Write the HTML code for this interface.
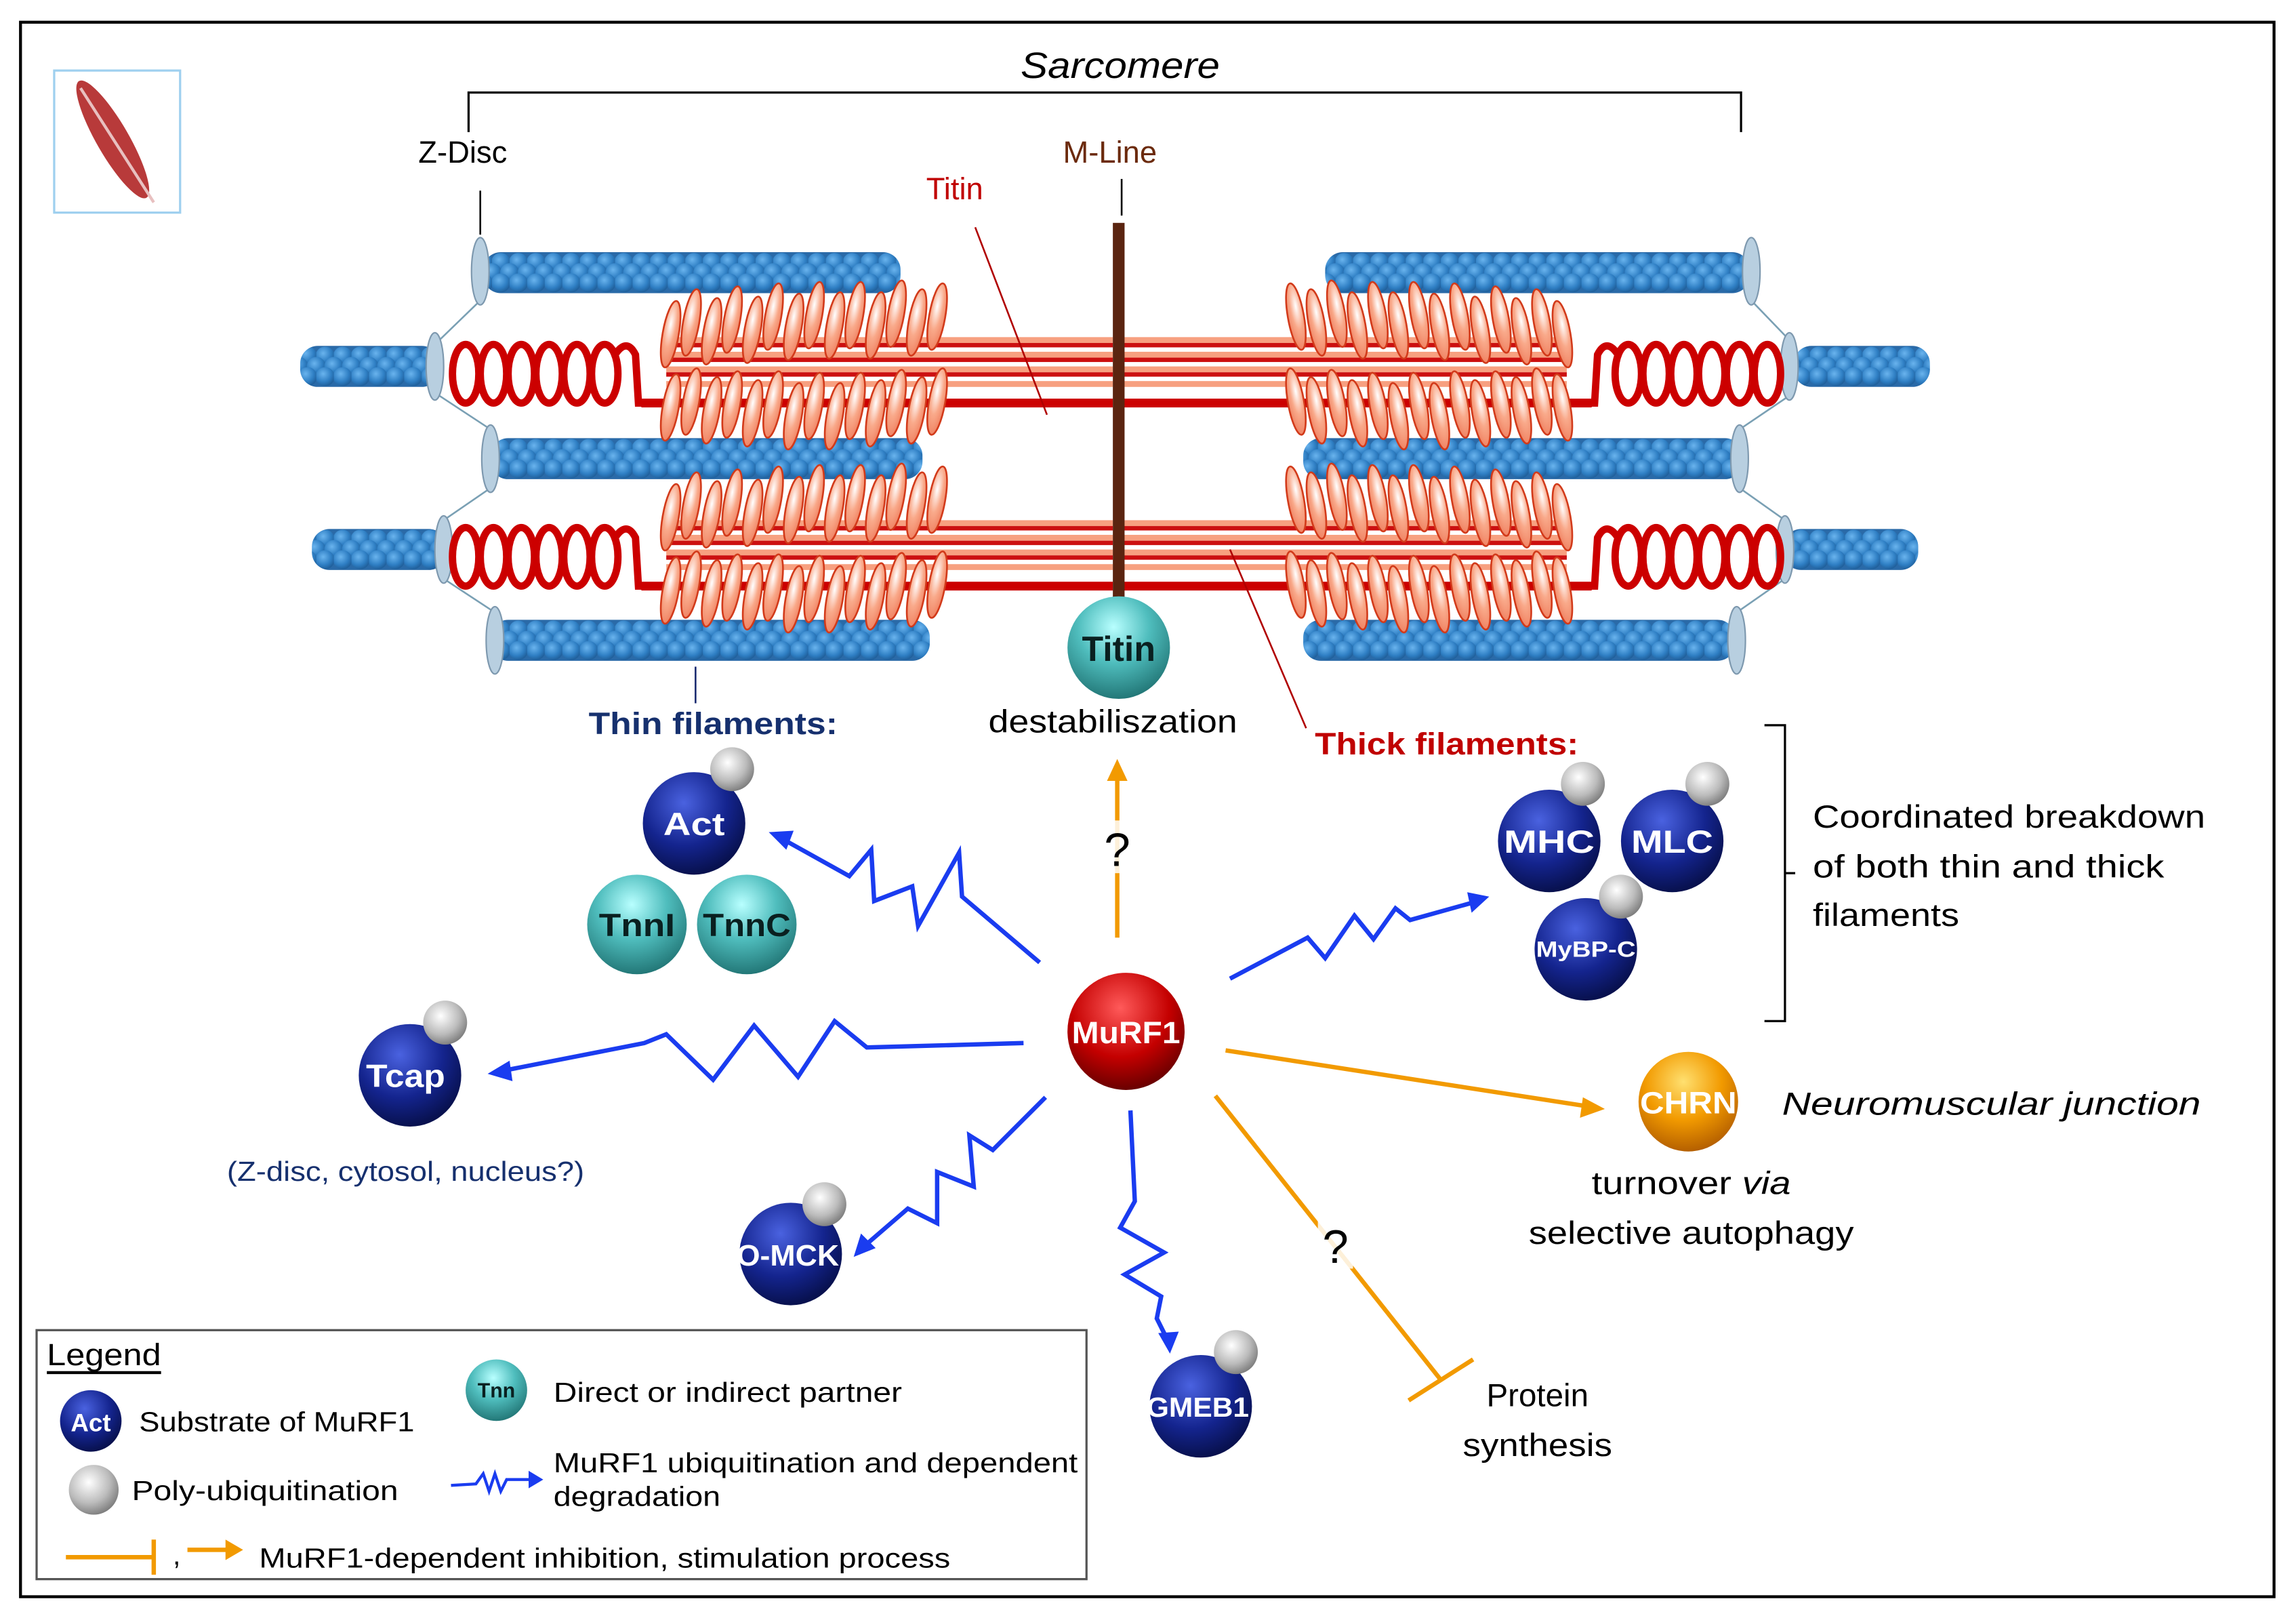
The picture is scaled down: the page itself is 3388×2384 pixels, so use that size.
<!DOCTYPE html>
<html><head><meta charset="utf-8">
<style>html,body{margin:0;padding:0;background:#fff}svg{display:block}
text{font-family:"Liberation Sans",sans-serif}</style></head>
<body>
<svg width="3388" height="2384" viewBox="0 0 1568 1103" xmlns="http://www.w3.org/2000/svg">
<defs>
<radialGradient id="gN" cx="0.4" cy="0.3" r="0.7"><stop offset="0" stop-color="#4a62e0"/><stop offset="0.6" stop-color="#14248e"/><stop offset="1" stop-color="#08114f"/></radialGradient>
<radialGradient id="gT" cx="0.45" cy="0.3" r="0.7"><stop offset="0" stop-color="#b8ffff"/><stop offset="0.5" stop-color="#4fbdbd"/><stop offset="1" stop-color="#237878"/></radialGradient>
<radialGradient id="gR" cx="0.45" cy="0.3" r="0.7"><stop offset="0" stop-color="#ff5a5a"/><stop offset="0.6" stop-color="#c40000"/><stop offset="1" stop-color="#6a0000"/></radialGradient>
<radialGradient id="gO" cx="0.45" cy="0.3" r="0.7"><stop offset="0" stop-color="#ffe070"/><stop offset="0.55" stop-color="#f29a00"/><stop offset="1" stop-color="#b56000"/></radialGradient>
<radialGradient id="gG" cx="0.4" cy="0.35" r="0.7"><stop offset="0" stop-color="#fff"/><stop offset="0.6" stop-color="#bbb"/><stop offset="1" stop-color="#777"/></radialGradient>
<radialGradient id="gH" cx="0.4" cy="0.35" r="0.7"><stop offset="0" stop-color="#fff"/><stop offset="0.5" stop-color="#f9a98a"/><stop offset="1" stop-color="#ef8060"/></radialGradient>
<radialGradient id="gB" cx="0.4" cy="0.35" r="0.7"><stop offset="0" stop-color="#6ab4ee"/><stop offset="0.6" stop-color="#2f7fc4"/><stop offset="1" stop-color="#1d5a94"/></radialGradient>
<pattern id="act" patternUnits="userSpaceOnUse" width="12" height="28" x="0" y="-14">
<rect width="12" height="28" fill="#2a6aa8"/>
<circle cx="6" cy="7" r="6.5" fill="url(#gB)"/>
<circle cx="0" cy="14" r="6.5" fill="url(#gB)"/>
<circle cx="12" cy="14" r="6.5" fill="url(#gB)"/>
<circle cx="6" cy="21" r="6.5" fill="url(#gB)"/>
</pattern>
<ellipse id="hU" rx="5.5" ry="23" fill="url(#gH)" stroke="#d23a1a" stroke-width="1.2" transform="rotate(10)"/>
<ellipse id="hD" rx="5.5" ry="23" fill="url(#gH)" stroke="#d23a1a" stroke-width="1.2" transform="rotate(10)"/>
<g id="thickL">
<g fill="#f7a080"><rect x="455" y="-20" width="305" height="4"/><rect x="455" y="-10" width="305" height="4"/><rect x="455" y="0" width="305" height="4"/><rect x="455" y="10" width="305" height="4"/></g>
<g fill="#cc1010"><rect x="455" y="-16" width="305" height="3"/><rect x="455" y="-6" width="305" height="3"/><rect x="455" y="4" width="305" height="3"/></g>
<rect x="438" y="22" width="322" height="6" fill="#cc0000"/>
<g fill="none" stroke="#cc0000" stroke-width="5">
<ellipse cx="318" cy="5" rx="9" ry="20"/><ellipse cx="337" cy="5" rx="9" ry="20"/><ellipse cx="356" cy="5" rx="9" ry="20"/><ellipse cx="375" cy="5" rx="9" ry="20"/><ellipse cx="394" cy="5" rx="9" ry="20"/><ellipse cx="413" cy="5" rx="9" ry="20"/>
<path d="M420,-8 Q428,-20 434,-8 L436,25 L445,25"/>
</g>
<g>
<use href="#hU" x="458" y="-22"/><use href="#hU" x="472" y="-30"/><use href="#hU" x="486" y="-24"/><use href="#hU" x="500" y="-32"/><use href="#hU" x="514" y="-25"/><use href="#hU" x="528" y="-34"/><use href="#hU" x="542" y="-27"/><use href="#hU" x="556" y="-35"/><use href="#hU" x="570" y="-28"/><use href="#hU" x="584" y="-35"/><use href="#hU" x="598" y="-28"/><use href="#hU" x="612" y="-36"/><use href="#hU" x="626" y="-30"/><use href="#hU" x="640" y="-34"/>
<use href="#hD" x="458" y="28"/><use href="#hD" x="472" y="24"/><use href="#hD" x="486" y="30"/><use href="#hD" x="500" y="26"/><use href="#hD" x="514" y="32"/><use href="#hD" x="528" y="26"/><use href="#hD" x="542" y="34"/><use href="#hD" x="556" y="27"/><use href="#hD" x="570" y="34"/><use href="#hD" x="584" y="27"/><use href="#hD" x="598" y="32"/><use href="#hD" x="612" y="25"/><use href="#hD" x="626" y="30"/><use href="#hD" x="640" y="24"/>
</g>
</g>
<ellipse id="zd" rx="6" ry="23" fill="#b8cfe0" stroke="#7d98ae" stroke-width="1"/>
</defs>

<rect x="14" y="15" width="1539" height="1075" fill="#fff" stroke="#000" stroke-width="2"/>

<rect x="37" y="48" width="86" height="97" fill="#fff" stroke="#9fd0ef" stroke-width="1.5"/>
<ellipse cx="77" cy="95" rx="11" ry="46" fill="#b83a3a" transform="rotate(-30 77 95)"/>
<line x1="55" y1="60" x2="105" y2="138" stroke="#e8c0c0" stroke-width="2"/>

<text x="765" y="53" font-size="25" font-style="italic" text-anchor="middle" textLength="136" lengthAdjust="spacingAndGlyphs">Sarcomere</text>
<path d="M320,90 V63 H1189 V90" fill="none" stroke="#000" stroke-width="1.5"/>
<text x="316" y="111" font-size="21" text-anchor="middle">Z-Disc</text>
<text x="758" y="111" font-size="21" text-anchor="middle" fill="#6b2a0c">M-Line</text>
<text x="652" y="136" font-size="21" text-anchor="middle" fill="#c00000">Titin</text>
<line x1="328" y1="130" x2="328" y2="160" stroke="#000" stroke-width="1.2"/>
<line x1="766" y1="122" x2="766" y2="147" stroke="#000" stroke-width="1.2"/>

<g fill="url(#act)">
<rect transform="translate(0,186)" x="330" y="-14" width="285" height="28" rx="12"/>
<rect transform="translate(0,186)" x="905" y="-14" width="290" height="28" rx="12"/>
<rect transform="translate(0,250)" x="205" y="-14" width="95" height="28" rx="12"/>
<rect transform="translate(0,250)" x="1225" y="-14" width="93" height="28" rx="12"/>
<rect transform="translate(0,313)" x="335" y="-14" width="295" height="28" rx="12"/>
<rect transform="translate(0,313)" x="890" y="-14" width="300" height="28" rx="12"/>
<rect transform="translate(0,375)" x="213" y="-14" width="92" height="28" rx="12"/>
<rect transform="translate(0,375)" x="1218" y="-14" width="92" height="28" rx="12"/>
<rect transform="translate(0,437)" x="335" y="-14" width="300" height="28" rx="12"/>
<rect transform="translate(0,437)" x="890" y="-14" width="295" height="28" rx="12"/>
</g>
<g fill="none" stroke="#7aa0b4" stroke-width="1.2">
<path d="M328,205 L297,235 M297,268 L335,293 M335,333 L303,355 M303,395 L338,418"/>
<path d="M1196,205 L1222,232 M1222,270 L1188,293 M1188,333 L1219,355 M1219,395 L1186,418"/>
</g>
<use href="#zd" x="328" y="185"/><use href="#zd" x="297" y="250"/><use href="#zd" x="335" y="313"/><use href="#zd" x="303" y="375"/><use href="#zd" x="338" y="437"/>
<use href="#zd" x="1196" y="185"/><use href="#zd" x="1222" y="250"/><use href="#zd" x="1188" y="313"/><use href="#zd" x="1219" y="375"/><use href="#zd" x="1186" y="437"/>

<use href="#thickL" transform="translate(0,250)"/>
<use href="#thickL" transform="translate(0,375)"/>
<use href="#thickL" transform="translate(1525,250) scale(-1,1)"/>
<use href="#thickL" transform="translate(1525,375) scale(-1,1)"/>
<line x1="666" y1="155" x2="715" y2="283" stroke="#b00000" stroke-width="1.2"/>
<rect x="760" y="152" width="8" height="265" fill="#5a2410"/>
<line x1="840" y1="375" x2="892" y2="497" stroke="#b00000" stroke-width="1.2"/>
<line x1="475" y1="455" x2="475" y2="480" stroke="#1a2a70" stroke-width="1.2"/>

<circle cx="764" cy="442" r="35" fill="url(#gT)"/>
<text x="764" y="451" font-size="24" font-weight="bold" text-anchor="middle" fill="#0a2020">Titin</text>
<text x="760" y="500" font-size="22" text-anchor="middle" textLength="170" lengthAdjust="spacingAndGlyphs">destabiliszation</text>
<text x="487" y="501" font-size="21" font-weight="bold" text-anchor="middle" fill="#16306e" textLength="170" lengthAdjust="spacingAndGlyphs">Thin filaments:</text>
<text x="988" y="515" font-size="21" font-weight="bold" text-anchor="middle" fill="#c00000" textLength="180" lengthAdjust="spacingAndGlyphs">Thick filaments:</text>

<g fill="none" stroke="#1a3cf0" stroke-width="3" stroke-linejoin="miter">
<polyline points="710,657 657,612 655,582 627,632 623,605 597,615 595,580 580,598 535,573"/>
<polyline points="699,712 592,715 570,697 545,735 515,700 487,737 455,706 440,712 343,731"/>
<polyline points="840,668 893,640 905,654 925,625 938,641 953,620 963,628 1006,616"/>
<polyline points="714,749 678,785 662,775 665,810 640,800 640,835 620,825 591,850"/>
<polyline points="772,758 775,820 765,838 795,855 768,870 793,885 790,900 797,914"/>
</g>
<g fill="#1a3cf0">
<polygon points="525,568 542,567 537,580"/>
<polygon points="333,733 348,724 350,738"/>
<polygon points="1017,612 1002,609 1005,623"/>
<polygon points="583,858 588,842 598,852"/>
<polygon points="799,924 791,910 805,909"/>
</g>
<g stroke="#f29a00" stroke-width="3" fill="none">
<line x1="763" y1="640" x2="763" y2="530"/>
<line x1="837" y1="717" x2="1083" y2="755"/>
<line x1="830" y1="748" x2="984" y2="942"/>
<line x1="962" y1="956" x2="1006" y2="928"/>
</g>
<g fill="#f29a00">
<polygon points="763,518 756,533 770,533"/>
<polygon points="1096,757 1081,749 1079,763"/>
</g>
<rect x="752" y="560" width="22" height="36" fill="#fff" opacity="0.85"/>
<text x="763" y="591" font-size="32" text-anchor="middle">?</text>
<rect x="900" y="830" width="24" height="36" fill="#fff" opacity="0.85"/>
<text x="912" y="862" font-size="32" text-anchor="middle">?</text>

<g font-weight="bold" text-anchor="middle" fill="#fff">
<circle cx="474" cy="562" r="35" fill="url(#gN)"/><circle cx="500" cy="525" r="15" fill="url(#gG)"/>
<text x="474" y="570" font-size="22" textLength="42" lengthAdjust="spacingAndGlyphs">Act</text>
<circle cx="435" cy="631" r="34" fill="url(#gT)"/><circle cx="510" cy="631" r="34" fill="url(#gT)"/>
<text x="435" y="639" font-size="22" fill="#0a2020" textLength="52" lengthAdjust="spacingAndGlyphs">TnnI</text>
<text x="510" y="639" font-size="22" fill="#0a2020" textLength="60" lengthAdjust="spacingAndGlyphs">TnnC</text>
<circle cx="1058" cy="574" r="35" fill="url(#gN)"/><circle cx="1081" cy="535" r="15" fill="url(#gG)"/>
<circle cx="1142" cy="574" r="35" fill="url(#gN)"/><circle cx="1166" cy="535" r="15" fill="url(#gG)"/>
<text x="1058" y="582" font-size="22" textLength="62" lengthAdjust="spacingAndGlyphs">MHC</text>
<text x="1142" y="582" font-size="22" textLength="56" lengthAdjust="spacingAndGlyphs">MLC</text>
<circle cx="1083" cy="648" r="35" fill="url(#gN)"/><circle cx="1107" cy="612" r="15" fill="url(#gG)"/>
<text x="1083" y="653" font-size="15" textLength="68" lengthAdjust="spacingAndGlyphs">MyBP-C</text>
<circle cx="769" cy="704" r="40" fill="url(#gR)"/>
<text x="769" y="712" font-size="21" textLength="74" lengthAdjust="spacingAndGlyphs">MuRF1</text>
<circle cx="280" cy="734" r="35" fill="url(#gN)"/><circle cx="304" cy="698" r="15" fill="url(#gG)"/>
<text x="277" y="742" font-size="22" textLength="54" lengthAdjust="spacingAndGlyphs">Tcap</text>
<circle cx="540" cy="856" r="35" fill="url(#gN)"/><circle cx="563" cy="822" r="15" fill="url(#gG)"/>
<text x="538" y="864" font-size="20" textLength="70" lengthAdjust="spacingAndGlyphs">O-MCK</text>
<circle cx="820" cy="960" r="35" fill="url(#gN)"/><circle cx="844" cy="923" r="15" fill="url(#gG)"/>
<text x="818" y="967" font-size="19" textLength="70" lengthAdjust="spacingAndGlyphs">GMEB1</text>
<circle cx="1153" cy="752" r="34" fill="url(#gO)"/>
<text x="1153" y="760" font-size="21" textLength="66" lengthAdjust="spacingAndGlyphs">CHRN</text>
</g>

<path d="M1205,495 H1219 V697 H1205 M1219,596 H1226" fill="none" stroke="#000" stroke-width="1.5"/>
<g font-size="22">
<text x="1238" y="565" textLength="268" lengthAdjust="spacingAndGlyphs">Coordinated breakdown</text>
<text x="1238" y="599" textLength="240" lengthAdjust="spacingAndGlyphs">of both thin and thick</text>
<text x="1238" y="632" textLength="100" lengthAdjust="spacingAndGlyphs">filaments</text>
<text x="1360" y="761" font-style="italic" text-anchor="middle" textLength="286" lengthAdjust="spacingAndGlyphs">Neuromuscular junction</text>
<text x="1155" y="815" text-anchor="middle" textLength="136" lengthAdjust="spacingAndGlyphs">turnover <tspan font-style="italic">via</tspan></text>
<text x="1155" y="849" text-anchor="middle" textLength="222" lengthAdjust="spacingAndGlyphs">selective autophagy</text>
<text x="1050" y="960" text-anchor="middle">Protein</text>
<text x="1050" y="994" text-anchor="middle" textLength="102" lengthAdjust="spacingAndGlyphs">synthesis</text>
</g>
<text x="277" y="806" font-size="19" fill="#16306e" text-anchor="middle" textLength="244" lengthAdjust="spacingAndGlyphs">(Z-disc, cytosol, nucleus?)</text>

<rect x="25" y="908" width="717" height="170" fill="#fff" stroke="#555" stroke-width="1.5"/>
<g font-size="19">
<text x="32" y="932" font-size="21" textLength="78" lengthAdjust="spacingAndGlyphs">Legend</text>
<line x1="32" y1="937" x2="110" y2="937" stroke="#000" stroke-width="2"/>
<circle cx="62" cy="970" r="21" fill="url(#gN)"/>
<text x="62" y="977" font-size="17" font-weight="bold" fill="#fff" text-anchor="middle">Act</text>
<text x="95" y="977" textLength="188" lengthAdjust="spacingAndGlyphs">Substrate of MuRF1</text>
<circle cx="64" cy="1017" r="17" fill="url(#gG)"/>
<text x="90" y="1024" textLength="182" lengthAdjust="spacingAndGlyphs">Poly-ubiquitination</text>
<circle cx="339" cy="949" r="21" fill="url(#gT)"/>
<text x="339" y="954" font-size="14" font-weight="bold" fill="#0a2020" text-anchor="middle">Tnn</text>
<text x="378" y="957" textLength="238" lengthAdjust="spacingAndGlyphs">Direct or indirect partner</text>
<polyline points="308,1014 325,1013 330,1006 334,1018 338,1006 342,1018 346,1010 362,1010" fill="none" stroke="#1a3cf0" stroke-width="2"/>
<polygon points="371,1010 361,1004 361,1016" fill="#1a3cf0"/>
<text x="378" y="1005" textLength="358" lengthAdjust="spacingAndGlyphs">MuRF1 ubiquitination and dependent</text>
<text x="378" y="1028" textLength="114" lengthAdjust="spacingAndGlyphs">degradation</text>
<line x1="45" y1="1063" x2="105" y2="1063" stroke="#f29a00" stroke-width="3"/>
<line x1="105" y1="1051" x2="105" y2="1075" stroke="#f29a00" stroke-width="3"/>
<text x="118" y="1068">,</text>
<line x1="128" y1="1058" x2="155" y2="1058" stroke="#f29a00" stroke-width="3"/>
<polygon points="166,1058 154,1051 154,1065" fill="#f29a00"/>
<text x="177" y="1070" textLength="472" lengthAdjust="spacingAndGlyphs">MuRF1-dependent inhibition, stimulation process</text>
</g>
</svg>
</body></html>
